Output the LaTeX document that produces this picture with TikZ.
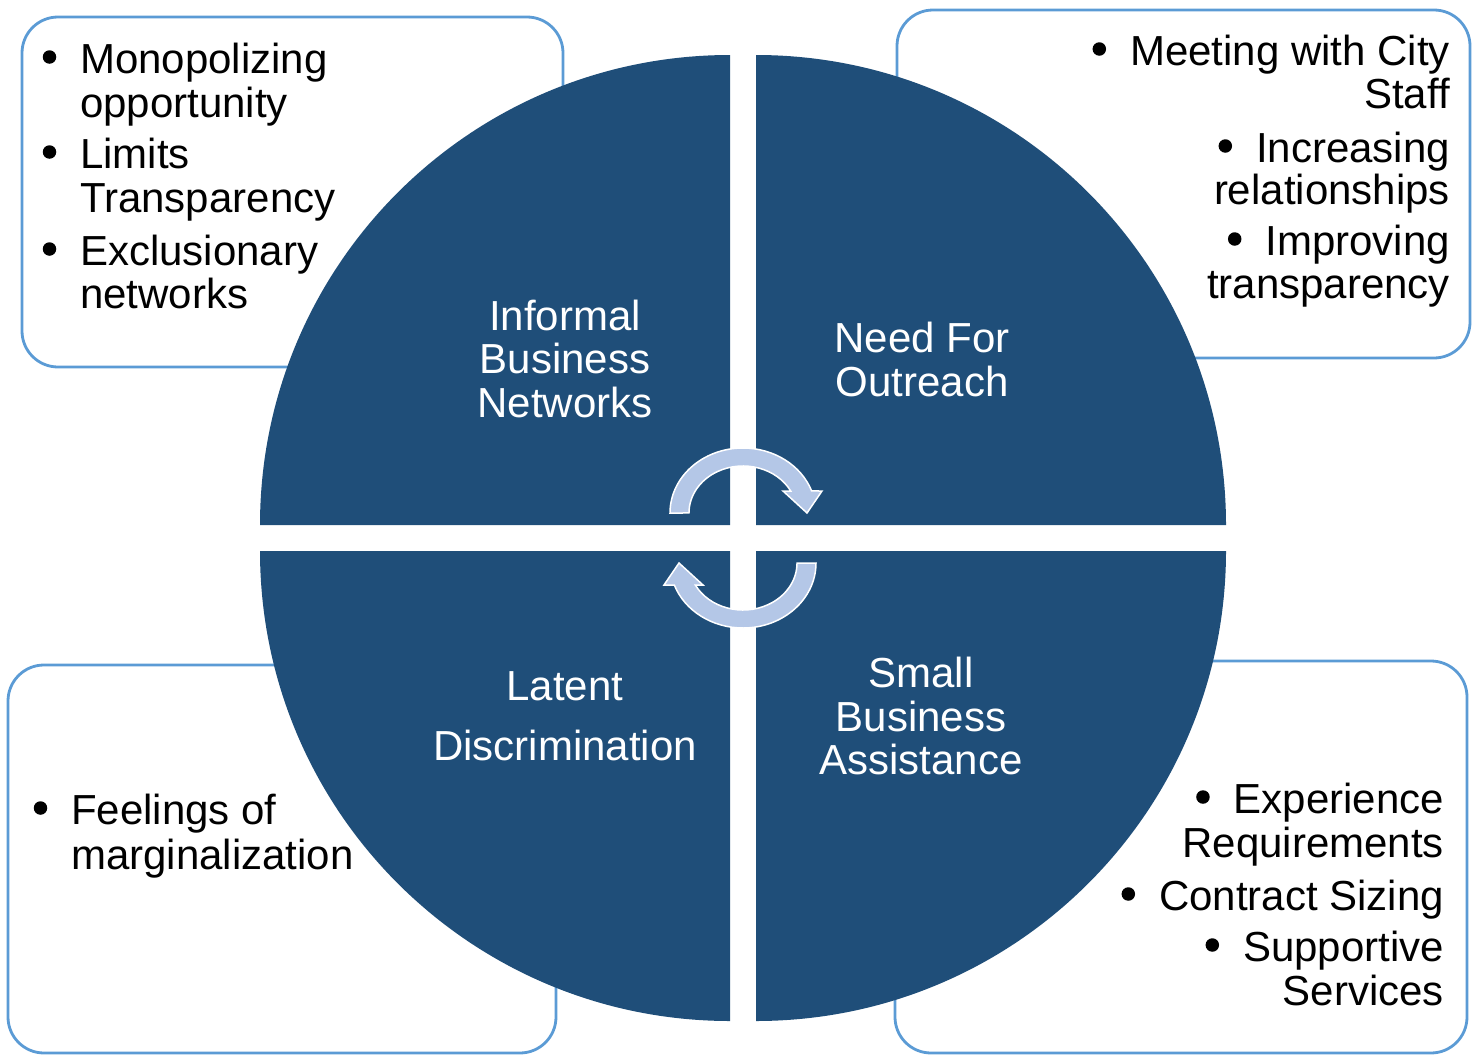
\documentclass[tikz,border=0pt]{standalone}
\usepackage{fontspec}
\setmainfont{Liberation Sans}
\definecolor{quadblue}{HTML}{1F4E79}
\definecolor{boxblue}{HTML}{5B9BD5}
\definecolor{arrowblue}{HTML}{B4C7E7}
\begin{document}
\begin{tikzpicture}[x=1pt,y=-1pt,
  every node/.style={inner sep=0pt, font=\fontsize{42}{44}\selectfont},
  box/.style={draw=boxblue, line width=2.8pt, fill=white, rounded corners=36pt},
  quad/.style={fill=quadblue},
  cyc/.style={fill=arrowblue, draw=white, line width=1.5pt, line join=miter},
  lline/.style={anchor=base west, text=black},
  rline/.style={anchor=base east, text=black},
  bul/.style={circle, fill=black, minimum size=13.5pt, inner sep=0pt, xshift=-30.5pt, yshift=16pt},
  lbl/.style={anchor=base, text=white}]
\useasboundingbox (0,0) rectangle (1473,1060);

% side boxes
\draw[box] (22,17) rectangle (563,367);
\draw[box] (897,10) rectangle (1470,358);
\draw[box] (8,665) rectangle (556,1053);
\draw[box] (895,661) rectangle (1467,1053);

% four quarter discs
\fill[quad] (730,525) -- (260,525) arc[start angle=180, end angle=90, radius=470pt] -- cycle;
\fill[quad] (756,525) -- (756,55) arc[start angle=90, end angle=0, radius=470pt] -- cycle;
\fill[quad] (730,551) -- (260,551) arc[start angle=180, end angle=270, radius=470pt] -- cycle;
\fill[quad] (756,551) -- (756,1021) arc[start angle=270, end angle=360, radius=470pt] -- cycle;

% circular arrows in the middle
\draw[cyc] (670,513) arc[start angle=180, end angle=19.8, x radius=73pt, y radius=65pt]
  -- (822,491) -- (807,513) -- (783,491) -- (790.7,491)
  arc[start angle=27.9, end angle=180, x radius=54pt, y radius=47pt] -- cycle;
\draw[cyc] (816,563) arc[start angle=0, end angle=-160.2, x radius=73pt, y radius=65pt]
  -- (664,585) -- (679,563) -- (703,585) -- (695.3,585)
  arc[start angle=207.9, end angle=360, x radius=54pt, y radius=47pt] -- cycle;

% quadrant titles
\node[lbl] (q1a) at (565,330) {Informal};
\node[lbl] (q1b) at (565,373) {Business};
\node[lbl] (q1c) at (565,417) {Networks};
\node[lbl] (q2a) at (922,352) {Need For};
\node[lbl] (q2b) at (922,396) {Outreach};
\node[lbl] (q3a) at (565,700) {Latent};
\node[lbl] (q3b) at (565,760) {Discrimination};
\node[lbl] (q4a) at (921,687) {Small};
\node[lbl] (q4b) at (921,731) {Business};
\node[lbl] (q4c) at (921,774) {Assistance};

% upper left list
\node[lline] (a1) at (80,73) {Monopolizing};
\node[lline] (a2) at (80,117) {opportunity};
\node[lline] (a3) at (80,168) {Limits};
\node[lline] (a4) at (80,212) {Transparency};
\node[lline] (a5) at (80,265) {Exclusionary};
\node[lline] (a6) at (80,308) {networks};
\node[bul] (ab1) at (a1.base west) {};
\node[bul] (ab3) at (a3.base west) {};
\node[bul] (ab5) at (a5.base west) {};

% upper right list
\node[rline] (b1) at (1450,65) {Meeting with City};
\node[rline] (b2) at (1450,108) {Staff};
\node[rline] (b3) at (1450,162) {Increasing};
\node[rline] (b4) at (1450,204) {relationships};
\node[rline] (b5) at (1450,255) {Improving};
\node[rline] (b6) at (1450,298) {transparency};
\node[bul] (bb1) at (b1.base west) {};
\node[bul] (bb3) at (b3.base west) {};
\node[bul] (bb5) at (b5.base west) {};

% lower left list
\node[lline] (c1) at (71,824) {Feelings of};
\node[lline] (c2) at (71,869) {marginalization};
\node[bul] (cb1) at (c1.base west) {};

% lower right list
\node[rline] (d1) at (1444,813) {Experience};
\node[rline] (d2) at (1444,857) {Requirements};
\node[rline] (d3) at (1444,910) {Contract Sizing};
\node[rline] (d4) at (1444,961) {Supportive};
\node[rline] (d5) at (1444,1005) {Services};
\node[bul] (db1) at (d1.base west) {};
\node[bul] (db3) at (d3.base west) {};
\node[bul] (db4) at (d4.base west) {};
\end{tikzpicture}
\end{document}
